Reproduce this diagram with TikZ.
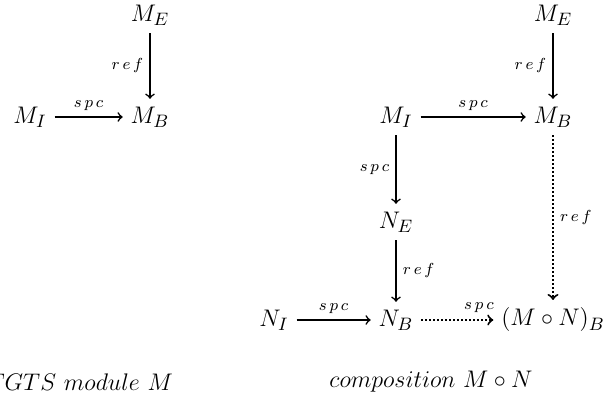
\documentclass[tikz,border=0pt]{standalone}
\tikzset{
  obj/.style={inner sep=2pt, outer sep=2pt, font=\fontsize{13}{15}\selectfont},
  fleche/.style={->, line width=0.8pt},
  pointille/.style={fleche, line width=1pt, dash pattern=on 1pt off 1pt},
  etiq/.style={font=\footnotesize, inner sep=3pt},
  legende/.style={font=\large},
}
\newcommand{\etref}{$r\,e\,f$}
\newcommand{\etspc}{$s\,p\,c$}
\begin{document}
\begin{tikzpicture}[x=0.5pt,y=-0.5pt]
	% Dimensions du cadre
	\def\xmax{611}
	\def\ymax{399}
	\useasboundingbox (0,0) rectangle (\xmax,\ymax);
	\clip (0,0) rectangle (\xmax,\ymax);
	% Module M
	\node[obj] (ME) at (150,15) {$M_E$};
	\node[obj] (MI) at (30,117) {$M_I$};
	\node[obj] (MB) at (150,117) {$M_B$};
	\draw [fleche] (ME) -- node[etiq,left] {\etref} (MB);
	\draw [fleche] (MI) -- node[etiq,above] {\etspc} (MB);
	% Composition M o N
	\node[obj] (ME2) at (553,15) {$M_E$};
	\node[obj] (MI2) at (396,117) {$M_I$};
	\node[obj] (MB2) at (553,117) {$M_B$};
	\node[obj] (NE) at (396,222) {$N_E$};
	\node[obj] (NI) at (274,320) {$N_I$};
	\node[obj] (NB) at (396,320) {$N_B$};
	\node[obj] (MNB) at (553,320) {$(M\circ N)_B$};
	\draw [fleche] (ME2) -- node[etiq,left] {\etref} (MB2);
	\draw [fleche] (MI2) -- node[etiq,above] {\etspc} (MB2);
	\draw [fleche] (MI2) -- node[etiq,left] {\etspc} (NE);
	\draw [fleche] (NE) -- node[etiq,right] {\etref} (NB);
	\draw [fleche] (NI) -- node[etiq,above] {\etspc} (NB);
	\draw [pointille] (MB2) -- node[etiq,right] {\etref} (MNB);
	\draw [pointille] (NB) -- node[etiq,above,pos=0.8] {\etspc} (MNB);
	% Legendes
	\node[legende,anchor=east] (capM) at (180,382) {$TGTS\ module\ M$};
	\node[legende] (capMN) at (431,382) {$composition\ M\circ N$};
\end{tikzpicture}
\end{document}
